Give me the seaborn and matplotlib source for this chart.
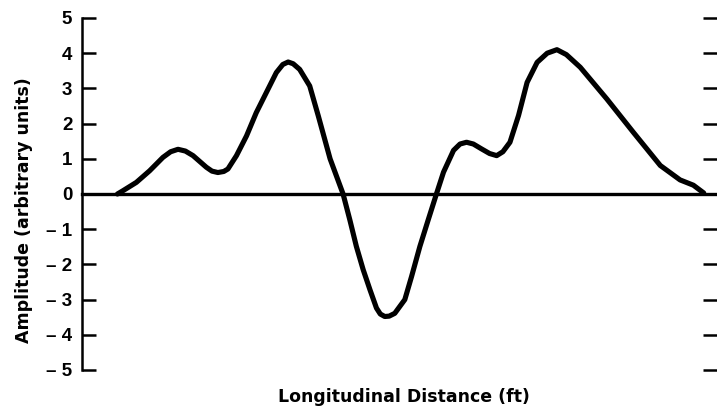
import matplotlib
matplotlib.use("Agg")
import matplotlib.pyplot as plt
import seaborn as sns
import pandas as pd

# Data (x in tick units, y in arbitrary units)
distance = [0.2, 0.38, 0.84, 1.29, 1.74, 2.0, 2.25, 2.5, 2.76, 3.21, 3.4, 3.6, 3.8,
            3.94, 4.23, 4.57, 4.9, 5.24, 5.58, 5.8, 5.98, 6.15, 6.37, 6.71, 7.0,
            7.4, 7.84, 8.07, 8.29, 8.52, 8.75, 8.97, 9.1, 9.25, 9.4, 9.59, 9.93,
            10.16, 10.44, 10.72, 11.0, 11.24, 11.58, 11.8, 12.02, 12.25, 12.53,
            12.8, 13.04, 13.25, 13.49, 13.78, 14.07, 14.41, 14.75, 15.08, 15.4,
            15.87, 16.77, 17.67, 18.58, 19.25, 19.7, 20.05]
amplitude = [0.0, 0.09, 0.33, 0.66, 1.04, 1.2, 1.27, 1.22, 1.09, 0.76, 0.65, 0.61, 0.64,
             0.71, 1.09, 1.65, 2.31, 2.88, 3.45, 3.68, 3.75, 3.7, 3.54, 3.07, 2.22,
             1.0, 0.0, -0.74, -1.49, -2.15, -2.72, -3.24, -3.41, -3.48, -3.47, -3.39, -3.0,
             -2.34, -1.49, -0.74, 0.0, 0.62, 1.24, 1.42, 1.47, 1.42, 1.28,
             1.15, 1.09, 1.2, 1.47, 2.23, 3.17, 3.74, 4.0, 4.1, 3.96,
             3.6, 2.7, 1.75, 0.81, 0.4, 0.25, 0.03]
x_ticks = list(range(21))
y_ticks = [5, 4, 3, 2, 1, 0, -1, -2, -3, -4, -5]
y_tick_labels = ["5", "4", "3", "2", "1", "0", "\u2013 1", "\u2013 2", "\u2013 3", "\u2013 4", "\u2013 5"]

df = pd.DataFrame({"distance": distance, "amplitude": amplitude})

sns.set_style("white")
plt.rcParams["font.family"] = ["Liberation Sans", "DejaVu Sans"]
plt.rcParams["text.color"] = "black"
plt.rcParams["axes.labelcolor"] = "black"
plt.rcParams["xtick.color"] = "black"
plt.rcParams["ytick.color"] = "black"

fig = plt.figure(figsize=(7.17, 4.13), dpi=100)
ax = fig.add_axes([82 / 717, 1 - 370 / 413, 1 - 82 / 717, (370 - 18) / 413])

sns.lineplot(data=df, x="distance", y="amplitude", ax=ax, color="black",
             linewidth=3.7, solid_joinstyle="round", solid_capstyle="round")

ax.set_xlim(-1, 20.5)
ax.set_ylim(-5, 5)

for s in ["top", "right"]:
    ax.spines[s].set_visible(False)
ax.spines["left"].set_linewidth(1.8)
ax.spines["left"].set_color("black")
ax.spines["bottom"].set_position(("data", 0))
ax.spines["bottom"].set_linewidth(2.4)
ax.spines["bottom"].set_color("black")

ax.set_xticks(x_ticks)
ax.set_xticklabels([""] * len(x_ticks))
ax.tick_params(axis="x", direction="out", length=4.5, width=1.2, color="black")

ax.set_yticks(y_ticks)
ax.set_yticklabels(y_tick_labels, fontsize=13.5, fontweight="bold", color="black")
ax.tick_params(axis="y", which="both", left=True, right=True, direction="in",
               length=10, width=1.8, color="black", pad=7)

label_font = dict(fontsize=12.5, fontweight="bold", family="DejaVu Sans", color="black")
ax.set_xlabel("Longitudinal Distance (ft)", **label_font)
ax.xaxis.set_label_coords(0.507, -0.052)
ax.set_ylabel("Amplitude (arbitrary units)", **label_font)
ax.yaxis.set_label_coords(-0.077, 0.455)

fig.savefig("out.png", dpi=100)
